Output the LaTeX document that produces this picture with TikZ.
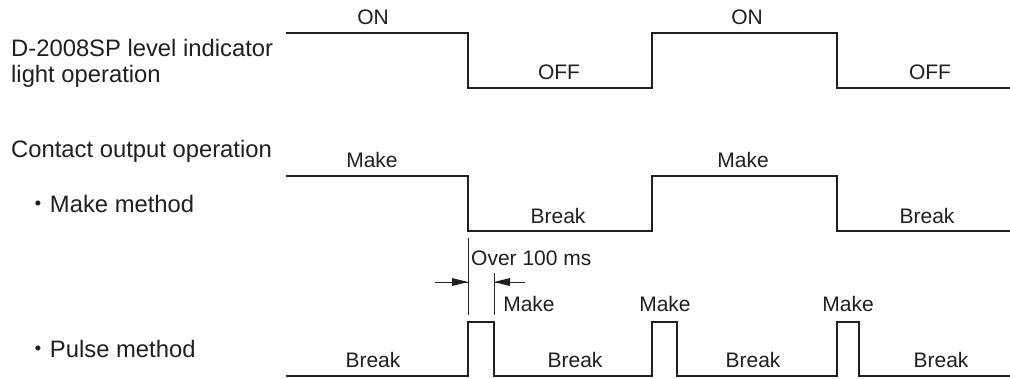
\documentclass[tikz,border=0pt]{standalone}
\usepackage{fontspec}
\setmainfont{Liberation Sans}
\newfontfamily\cjk{Noto Sans CJK JP}
\usetikzlibrary{arrows.meta}
\begin{document}
\begin{tikzpicture}[x=1pt,y=-1pt,
  wave/.style={line width=2.5pt,line join=miter,color=black!88},
  dimline/.style={line width=0.8pt,color=black!85},
  biglabel/.style={anchor=base west,inner sep=0pt,font=\fontsize{23.8}{26}\selectfont,text=black!88},
  lab/.style={anchor=base,inner sep=0pt,font=\fontsize{21}{24}\selectfont,text=black!88},
  tipfill/.style={fill=black!88,draw=none}]
\useasboundingbox (0,0) rectangle (1010,378);
% left labels
\node[biglabel] (l1) at (11,56) {D-2008SP level indicator};
\node[biglabel] (l2) at (11,82) {light operation};
\node[biglabel] (l3) at (11,157) {Contact output operation};
\node[biglabel] (l4) at (26,212) {{\cjk ・}Make method};
\node[biglabel] (l5) at (26,357) {{\cjk ・}Pulse method};
% row 1
\draw[wave] (286,33) -- (468,33) -- (468,88) -- (652,88) -- (652,33) -- (837,33) -- (837,88) -- (1010,88);
\node[lab] (on1) at (373,24.5) {ON};
\node[lab] (on2) at (747,24.5) {ON};
\node[lab] (off1) at (559,79) {OFF};
\node[lab] (off2) at (930,79) {OFF};
% row 2
\draw[wave] (286,176) -- (468,176) -- (468,231) -- (652,231) -- (652,176) -- (837,176) -- (837,231) -- (1010,231);
\node[lab] (mk1) at (372,167) {Make};
\node[lab] (mk2) at (743,167) {Make};
\node[lab] (br1) at (558,223.5) {Break};
\node[lab] (br2) at (927,223.5) {Break};
% row 3
\draw[wave] (286,376) -- (468,376) -- (468,322) -- (494,322) -- (494,376) -- (652,376) -- (652,322) -- (677,322) -- (677,376) -- (837,376) -- (837,322) -- (859,322) -- (859,376) -- (1010,376);
\node[lab] (pm1) at (529,311) {Make};
\node[lab] (pm2) at (665,311) {Make};
\node[lab] (pm3) at (848,311) {Make};
\node[lab] (pb1) at (373,367) {Break};
\node[lab] (pb2) at (575,367) {Break};
\node[lab] (pb3) at (753,367) {Break};
\node[lab] (pb4) at (941,367) {Break};
% dimension
\coordinate (e1t) at (468,238);
\coordinate (e1b) at (468,315);
\coordinate (e2t) at (494,273);
\coordinate (e2b) at (494,315);
\coordinate (a1s) at (435,282);
\coordinate (a1e) at (468,282);
\coordinate (a2s) at (525,282);
\coordinate (a2e) at (494,282);
\draw[dimline] (e1t) -- (e1b);
\draw[dimline] (e2t) -- (e2b);
\draw[dimline] (a1s) -- (a1e);
\draw[dimline] (a2s) -- (a2e);
\fill[tipfill] (a1e) -- ++(-16,-4) -- ++(0,8) -- cycle;
\fill[tipfill] (a2e) -- ++(16,-4) -- ++(0,8) -- cycle;
\node[lab,anchor=base west] (over) at (471,265) {Over 100 ms};
\end{tikzpicture}
\end{document}
